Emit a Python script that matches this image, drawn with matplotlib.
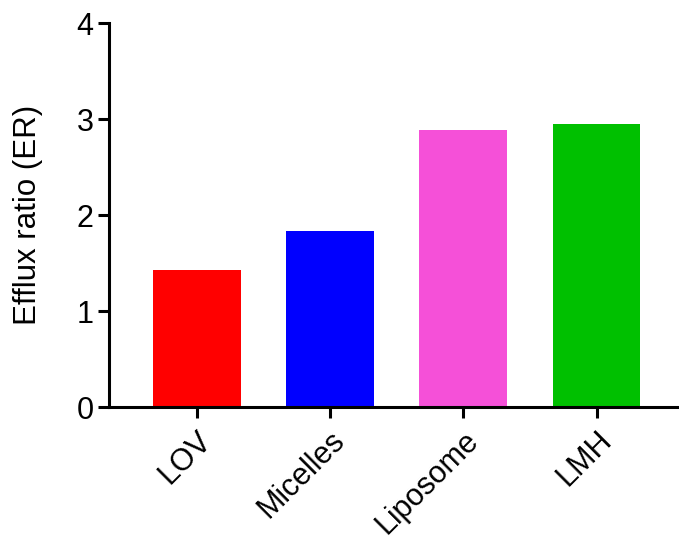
import numpy as np
import matplotlib.pyplot as plt

# data
categories = ["LOV", "Micelles", "Liposome", "LMH"]
efflux_ratio = [1.43, 1.84, 2.89, 2.95]
bar_colors = ["#FF0000", "#0000FF", "#F550D8", "#00C000"]
y_ticks = [0, 1, 2, 3, 4]

plt.rcParams['font.family'] = ['Liberation Sans', 'DejaVu Sans']

fig = plt.figure(figsize=(6.79, 5.41), dpi=100)
ax = fig.add_axes([0.1605, 0.2468, 0.8395, 0.7102])

x = np.arange(len(categories))
ax.bar(x, efflux_ratio, width=0.66, color=bar_colors)

ax.set_xlim(-0.659, 3.619)
ax.set_ylim(0, 4)
ax.set_yticks(y_ticks)
ax.set_xticks(x)
ax.set_xticklabels(categories, rotation=45, ha='right', rotation_mode='anchor')

for side in ['top', 'right']:
    ax.spines[side].set_visible(False)
for side in ['left', 'bottom']:
    ax.spines[side].set_linewidth(2.2)

ax.tick_params(axis='both', width=2.2, length=8, labelsize=22, direction='out')
ax.tick_params(axis='x', pad=5)
ax.tick_params(axis='y', pad=3)
ax.set_ylabel("Efflux ratio (ER)", fontsize=22.5, labelpad=24)

plt.savefig("out.png", dpi=100)
